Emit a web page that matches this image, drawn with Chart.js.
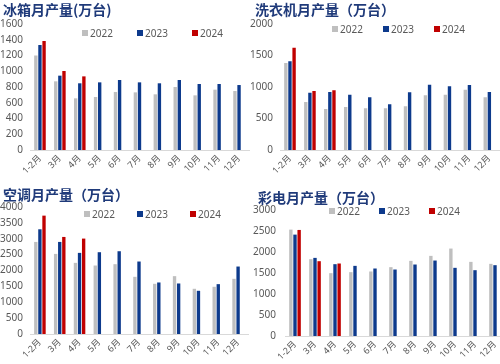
<!DOCTYPE html>
<html>
<head>
<meta charset="utf-8">
<script src="https://cdn.jsdelivr.net/npm/chart.js@4.4.1/dist/chart.umd.min.js"></script>
<style>
html, body { margin: 0; padding: 0; background: #fff; overflow: hidden; }
#wrap { position: relative; width: 500px; height: 364px; overflow: hidden; }
.panel { position: absolute; }
</style>
</head>
<body>
<div id="wrap">
  <div class="panel" style="left:0;top:0;width:250px;height:182px"><canvas id="c1"></canvas></div>
  <div class="panel" style="left:250px;top:0;width:250px;height:182px"><canvas id="c2"></canvas></div>
  <div class="panel" style="left:0;top:182px;width:250px;height:182px"><canvas id="c3"></canvas></div>
  <div class="panel" style="left:250px;top:182px;width:262px;height:182px"><canvas id="c4"></canvas></div>
</div>
<script>
// data (万台)
const months = ['1-2月', '3月', '4月', '5月', '6月', '7月', '8月', '9月', '10月', '11月', '12月'];
const years = ['2022', '2023', '2024'];

const fridge22 = [1200, 872, 656, 673, 737, 732, 707, 800, 694, 766, 749];
const fridge23 = [1333, 944, 847, 859, 889, 859, 847, 889, 838, 838, 825];
const fridge24 = [1384, 1003, 935];

const washer22 = [1381, 762, 651, 682, 661, 661, 693, 868, 878, 957, 836];
const washer23 = [1407, 910, 920, 878, 836, 725, 915, 1037, 1010, 1032, 920];
const washer24 = [1624, 936, 947];

const ac22 = [2900, 2523, 2241, 2157, 2199, 1801, 1581, 1822, 1424, 1487, 1738];
const ac23 = [3298, 2900, 2555, 2576, 2607, 2283, 1623, 1591, 1361, 1570, 2125];
const ac24 = [3728, 3057, 3005];

const tv22 = [2533, 1829, 1496, 1520, 1536, 1639, 1789, 1908, 2082, 1765, 1718];
const tv23 = [2414, 1860, 1710, 1670, 1607, 1583, 1702, 1797, 1623, 1567, 1686];
const tv24 = [2525, 1781, 1726];

const colors = ['#BFBFBF', '#0D3A8C', '#C00000'];
const txt = '#595959';

Chart.defaults.font.family = "'Noto Sans', 'Noto Sans CJK SC', sans-serif";
Chart.defaults.animation = false;

// title + legend drawn on top of the plot like in the source image
const decor = {
  id: 'decor',
  afterDraw(chart, args, o) {
    const ctx = chart.ctx;
    ctx.save();
    ctx.fillStyle = '#1F3A7A';
    ctx.font = "bold 14px 'Noto Sans CJK SC'";
    ctx.textBaseline = 'top';
    ctx.fillText(o.title, o.tx, o.ty);
    ctx.font = "10px 'Noto Sans', sans-serif";
    ctx.textBaseline = 'middle';
    chart.data.datasets.forEach((ds, i) => {
      const x = o.lx + i * o.ldx;
      ctx.fillStyle = ds.backgroundColor;
      ctx.fillRect(x, o.ly - 3, 6, 6);
      ctx.fillStyle = txt;
      ctx.fillText(ds.label, x + 8, o.ly + 1);
    });
    ctx.restore();
  }
};

function makeChart(id, vals, p) {
  new Chart(document.getElementById(id), {
    type: 'bar',
    data: {
      labels: months,
      datasets: vals.map((v, i) => ({
        label: years[i],
        data: v,
        backgroundColor: colors[i],
        categoryPercentage: 0.62,
        barPercentage: 0.82
      }))
    },
    options: {
      responsive: true,
      maintainAspectRatio: false,
      layout: { padding: { top: p.top, left: 0, right: p.right, bottom: p.bottom } },
      plugins: {
        legend: { display: false },
        tooltip: { enabled: false },
        decor: p.decor
      },
      scales: {
        x: {
          grid: { display: false, drawTicks: false },
          border: { display: true, color: '#D9D9D9' },
          ticks: { color: txt, font: { size: 9 }, maxRotation: 45, minRotation: 45, autoSkip: false, padding: 3 },
          afterFit: s => { s.height = 32; }
        },
        y: {
          min: 0,
          max: p.max,
          grid: { display: false, drawTicks: false },
          border: { display: false },
          ticks: { stepSize: p.step, color: txt, font: { size: 10 }, padding: p.tickPad, callback: v => String(v) },
          afterFit: s => { s.width = p.left; }
        }
      }
    },
    plugins: [decor]
  });
}

makeChart('c1', [fridge22, fridge23, fridge24], {
  max: 1600, step: 200, top: 24, bottom: 0, right: 1, left: 30, tickPad: 7,
  decor: { title: '冰箱月产量(万台)', tx: 3, ty: 3, lx: 82, ldx: 55, ly: 33 }
});
makeChart('c2', [washer22, washer23, washer24], {
  max: 2000, step: 500, top: 24, bottom: 0, right: 0, left: 30, tickPad: 7,
  decor: { title: '洗衣机月产量（万台）', tx: 5, ty: 3, lx: 82, ldx: 51, ly: 29 }
});
makeChart('c3', [ac22, ac23, ac24], {
  max: 4000, step: 500, top: 25, bottom: -2, right: 2, left: 30, tickPad: 7,
  decor: { title: '空调月产量（万台）', tx: 3, ty: 6, lx: 84, ldx: 53, ly: 32 }
});
makeChart('c4', [tv22, tv23, tv24], {
  max: 3000, step: 500, top: 28, bottom: -4, right: 7, left: 35, tickPad: 9,
  decor: { title: '彩电月产量（万台）', tx: 8, ty: 9, lx: 79, ldx: 50, ly: 29 }
});
</script>
</body>
</html>
